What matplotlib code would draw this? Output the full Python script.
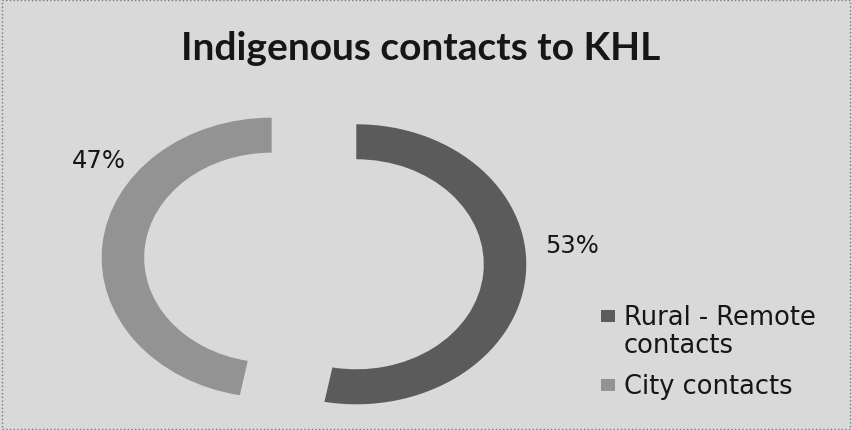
import matplotlib
matplotlib.use("Agg")
import matplotlib.pyplot as plt
from matplotlib.patches import Rectangle

# Data
categories = ["Rural - Remote\ncontacts", "City contacts"]
values = [53, 47]
colors = ["#5b5b5b", "#939393"]
title = "Indigenous contacts to KHL"

W, H = 852, 431
fig = plt.figure(figsize=(W / 100, H / 100), dpi=100)
bg = "#d9d9d9"
fig.patch.set_facecolor(bg)
ax = fig.add_axes([0, 0, 1, 1])
ax.set_facecolor(bg)

wedges, _ = ax.pie(values, colors=colors, startangle=90, counterclock=False,
                   explode=[0.25, 0.25], radius=1.0,
                   wedgeprops=dict(width=0.25, edgecolor="none"))
ax.set_aspect("auto")
ax.set_xlim(-1.847, 3.165)
ax.set_ylim(-1.207, 1.871)
ax.axis("off")

txt_color = "#161616"

# percentage labels (data coords)
label_pos = [(1.518, 0.064), (-1.268, 0.671)]
for v, (x, y) in zip(values, label_pos):
    ax.text(x, y, f"{v}%", ha="center", va="baseline", fontsize=17.5,
            family="DejaVu Sans", color=txt_color)

# title
fig.text(0.494, 1 - 60 / H, title, ha="center", va="baseline", fontsize=28,
         fontweight="bold", family="Lato", color=txt_color)

# legend (manual placement)
first_baselines = [325, 394]   # pixel rows of first-line baselines
line_step = 28
for cat, c, b in zip(categories, colors, first_baselines):
    fig.patches.append(Rectangle((601 / W, 1 - (b - 2) / H), 14 / W, 12 / H,
                                 transform=fig.transFigure, facecolor=c,
                                 edgecolor="none"))
    for i, line in enumerate(cat.split("\n")):
        fig.text(624 / W, 1 - (b + i * line_step) / H, line, ha="left",
                 va="baseline", fontsize=18.5, family="DejaVu Sans",
                 color=txt_color)

fig.patches.append(Rectangle((0.002, 0.002), 0.996, 0.996, transform=fig.transFigure,
                             fill=False, edgecolor="#7a7a7a", linewidth=1, linestyle=":"))

fig.savefig("out.png", dpi=100, facecolor=fig.get_facecolor())
